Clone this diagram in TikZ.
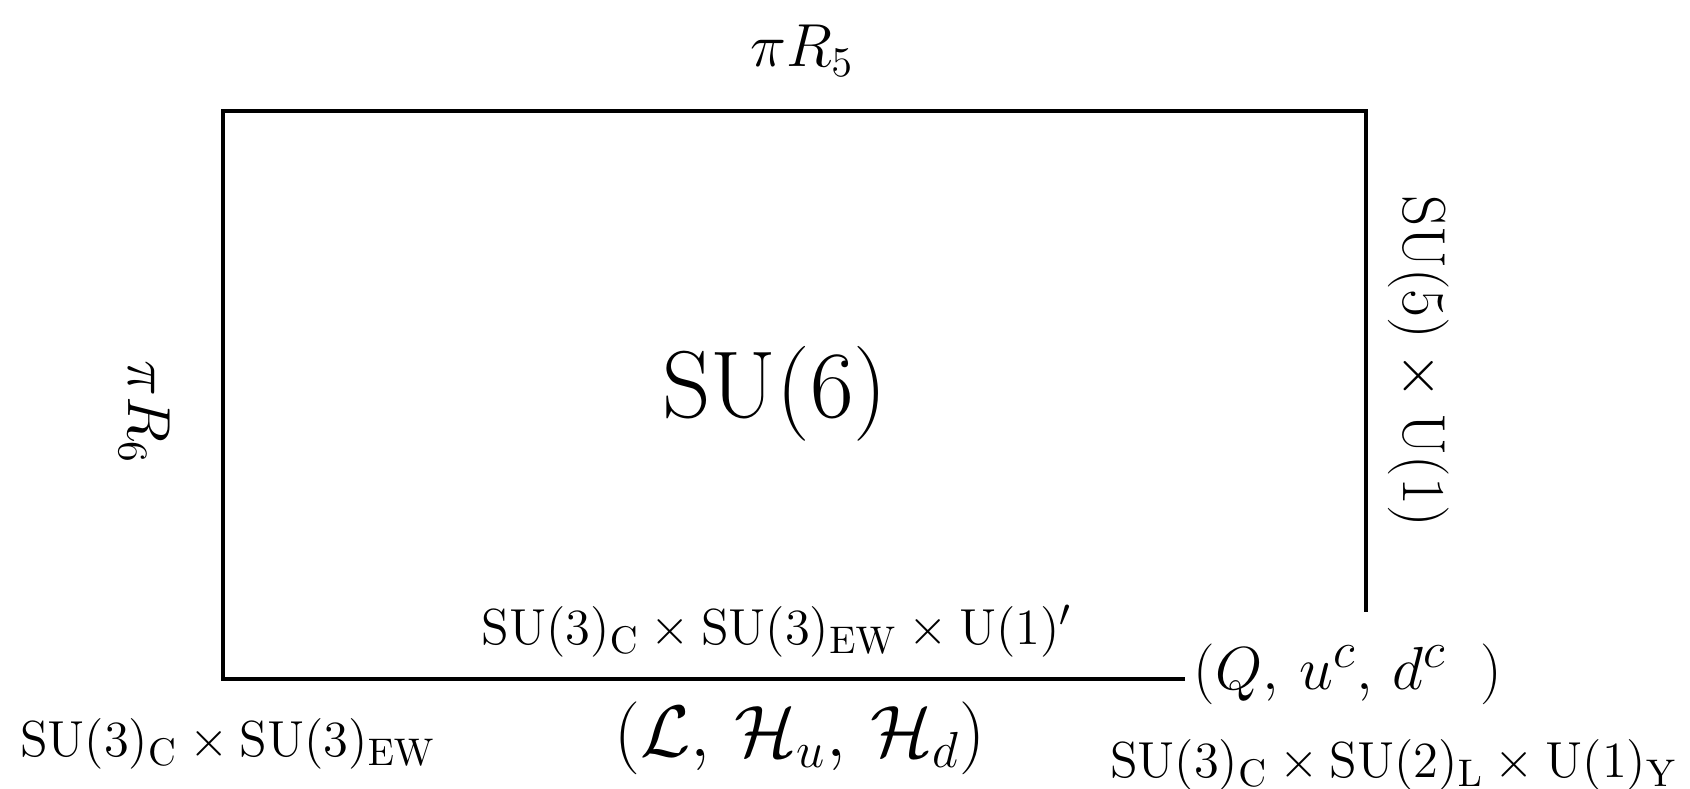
\documentclass[tikz,border=0pt]{standalone}
\usepackage{amsmath,amsfonts}
\usepackage{tikz}
\usetikzlibrary{positioning}

\begin{document}
\begin{tikzpicture}[x=0.01cm, y=-0.01cm,
  frame/.style={line width=1.4pt},
  big/.style={font=\fontsize{27}{32}\selectfont, inner sep=0pt},
  mid/.style={font=\fontsize{17.5}{21}\selectfont, inner sep=0pt},
  small/.style={font=\fontsize{15}{18}\selectfont, inner sep=0pt}]
\useasboundingbox (0,0) rectangle (1690,789);
% corners of the orbifold
\coordinate (bl) at (223,679);
\coordinate (tl) at (223,111);
\coordinate (tr) at (1366,111);
\coordinate (rend) at (1366,612);
\coordinate (bend) at (1185,679);
\draw[frame] (bend) -- (bl) -- (tl) -- (tr) -- (rend);

\node[big, anchor=base] (bulk) at (775,418) {SU(6)};
\node[mid, anchor=base] (r5) at (802,67) {$\pi R_5$};
\node[mid, anchor=base, rotate=-90] (r6) at (128,412) {$\pi R_6$};
\node[mid, anchor=base, rotate=-90, font=\fontsize{18.5}{22}\selectfont] (g5) at (1403,361)
  {$\mathrm{SU}(5)\times\mathrm{U}(1)$};
\node[small, anchor=base] (gbrane) at (777,645)
  {$\mathrm{SU}(3)_{\mathrm{C}}\times\mathrm{SU}(3)_{\mathrm{EW}}\times\mathrm{U}(1)'$};
\node[small, anchor=base] (gleft) at (228,757)
  {$\mathrm{SU}(3)_{\mathrm{C}}\times\mathrm{SU}(3)_{\mathrm{EW}}$};
\node[mid, anchor=base, font=\fontsize{19.5}{23}\selectfont] (lep) at (800,757)
  {$(\mathcal{L},\,\mathcal{H}_u,\,\mathcal{H}_d)$};
\node[mid, anchor=base west, font=\fontsize{19}{23}\selectfont] (qrk) at (1193,690)
  {$(Q,\,u^c,\,d^c\;\;)$};
\node[small, anchor=base] (gright) at (1394,778)
  {$\mathrm{SU}(3)_{\mathrm{C}}\times\mathrm{SU}(2)_{\mathrm{L}}\times\mathrm{U}(1)_{\mathrm{Y}}$};
\end{tikzpicture}
\end{document}
